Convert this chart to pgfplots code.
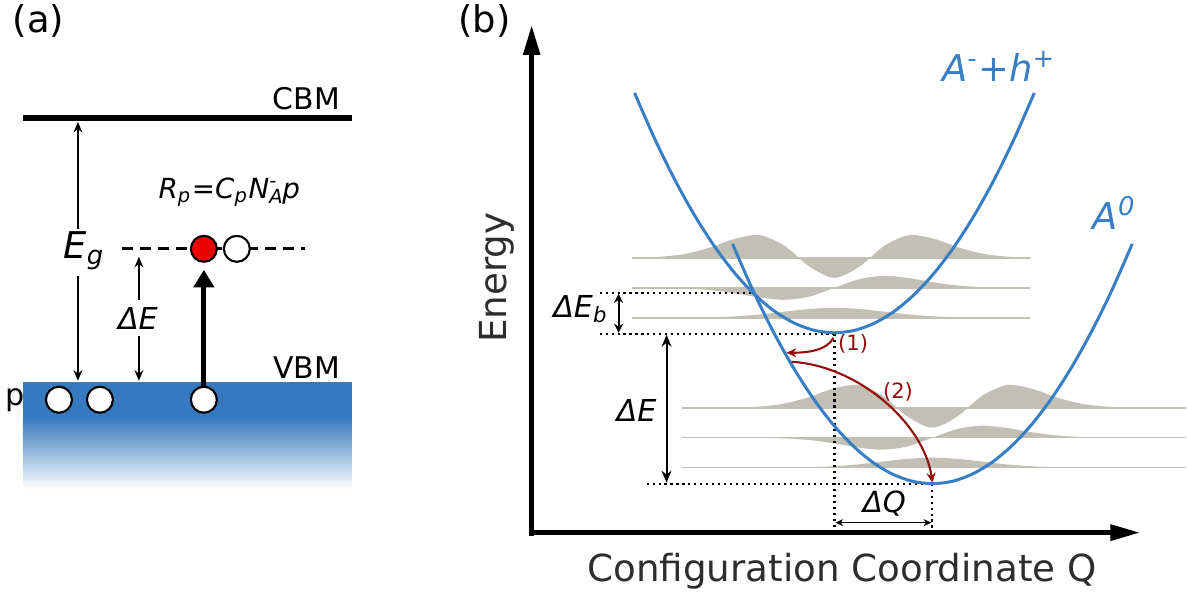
\documentclass[border=0pt]{standalone}
\usepackage{pgfplots}
\pgfplotsset{compat=1.18}
\usepackage{fontspec}
\setmainfont{DejaVu Sans}
\usetikzlibrary{arrows.meta}
\definecolor{cblue}{RGB}{56,126,196}
\definecolor{vbm}{RGB}{55,121,190}
\definecolor{wf}{RGB}{194,191,180}
\definecolor{dred}{RGB}{145,15,15}
\definecolor{fred}{RGB}{235,0,0}
\definecolor{tgray}{RGB}{45,45,45}
\newcommand{\fs}[1]{\fontsize{#1}{#1}\selectfont}
\begin{document}
\begin{tikzpicture}
\begin{axis}[width=118.7mm,height=59.5mm,scale only axis,
  xmin=0,xmax=1187,ymin=0,ymax=595,y dir=reverse,hide axis,clip=false]
\path (axis cs:0,0) rectangle (axis cs:1187,595);
% ---------------- panel (a) ----------------
\node[anchor=base west,inner sep=0] at (axis cs:12,33) {\fs{10.5pt}(a)};
\fill[vbm] (axis cs:23,382) rectangle (axis cs:352,418);
\shade[top color=vbm,bottom color=white] (axis cs:23,417.5) rectangle (axis cs:352,490);
\addplot[black,line width=1.7pt] coordinates {(23,118) (352,118)};
\node[anchor=base east,inner sep=0] at (axis cs:341,110) {\fs{8.5pt}CBM};
\node[anchor=base east,inner sep=0] at (axis cs:341,379) {\fs{8.5pt}VBM};
\node[anchor=base west,inner sep=0] at (axis cs:5,406) {\fs{8.6pt}p};
% Eg arrow
\draw[line width=0.45pt,{Stealth[length=3pt,width=2.5pt]}-] (axis cs:78,122) -- (axis cs:78,229);
\draw[line width=0.45pt,-{Stealth[length=3pt,width=2.5pt]}] (axis cs:78,276) -- (axis cs:78,381);
\node[anchor=base west,inner sep=0] at (axis cs:63,259) {\fs{10.5pt}\itshape E\textsubscript{g}};
% Delta E arrow (a)
\draw[line width=0.45pt,{Stealth[length=3pt,width=2.5pt]}-] (axis cs:139,257) -- (axis cs:139,300);
\draw[line width=0.45pt,-{Stealth[length=3pt,width=2.5pt]}] (axis cs:139,336) -- (axis cs:139,381);
\node[anchor=base,inner sep=0] at (axis cs:138,330) {\fs{8.6pt}\itshape ΔE};
% defect level
\addplot[black,line width=0.85pt,dash pattern=on 3.1pt off 2pt] coordinates {(122,249) (305,249)};
\draw[line width=1.5pt,-{Triangle[length=5pt,width=5.7pt]}] (axis cs:204,392) -- (axis cs:204,270);
\addplot[only marks,mark=*,mark size=3.7pt,mark options={fill=white,draw=black,line width=0.6pt}]
  coordinates {(59,400) (100,400) (204,400) (237,249)};
\addplot[only marks,mark=*,mark size=3.7pt,mark options={fill=fred,draw=black,line width=0.6pt}]
  coordinates {(204,249)};
\node[anchor=base west,inner sep=0] at (axis cs:158,199)
  {\fs{7.9pt}\itshape R\textsubscript{p}=C\textsubscript{p}N\rlap{\raisebox{0.5pt}{\textsuperscript{-}}}\textsubscript{A}\kern-0.6pt p};
% ---------------- panel (b) ----------------
\node[anchor=base west,inner sep=0] at (axis cs:458,33) {\fs{10.5pt}(b)};
\node[rotate=90,text=tgray] at (axis cs:497,278) {\fs{10.6pt}Energy};
\node[anchor=base west,inner sep=0,text=tgray] at (axis cs:587,582) {\fs{10.6pt}Configuration Coordinate Q};
% wavefunctions, upper set (centre 835)
\addplot[fill=wf,draw=none,smooth] coordinates {(635,318) (660,318) (685,317.9) (710,317.6) (735,316.6) (760,314.8) (785,311.9) (810,309.2) (835,308) (860,309.2) (885,311.9) (910,314.8) (935,316.6) (960,317.6) (985,317.9) (1010,318) (1035,318)};
\addplot[fill=wf,draw=none,smooth] coordinates {(635,288) (660,288.15) (685,288.66) (710,290.17) (735,293.36) (760,297.64) (785,300) (810,296.74) (835,288) (860,279.26) (885,276) (910,278.36) (935,282.64) (960,285.83) (985,287.34) (1010,287.85) (1035,288)};
\addplot[fill=wf,draw=none,smooth] coordinates {(635,258) (660,257) (685,254.2) (710,247.9) (735,239.1) (760,235.3) (785,245.9) (810,266.8) (835,278) (860,266.8) (885,245.9) (910,235.3) (935,239.1) (960,247.9) (985,254.2) (1010,257) (1035,258)};
\addplot[wf,line width=0.45pt] coordinates {(632,318) (1031,318)};
\addplot[wf,line width=0.45pt] coordinates {(632,288) (1031,288)};
\addplot[wf,line width=0.45pt] coordinates {(632,258) (1031,258)};
% wavefunctions, lower set (centre 933)
\addplot[fill=wf,draw=none,smooth] coordinates {(733,468) (758,468) (783,467.9) (808,467.6) (833,466.6) (858,464.8) (883,461.9) (908,459.2) (933,458) (958,459.2) (983,461.9) (1008,464.8) (1033,466.6) (1058,467.6) (1083,467.9) (1108,468) (1133,468)};
\addplot[fill=wf,draw=none,smooth] coordinates {(733,438) (758,438.15) (783,438.66) (808,440.17) (833,443.36) (858,447.64) (883,450) (908,446.74) (933,438) (958,429.26) (983,426) (1008,428.36) (1033,432.64) (1058,435.83) (1083,437.34) (1108,437.85) (1133,438)};
\addplot[fill=wf,draw=none,smooth] coordinates {(733,408) (758,407) (783,404.2) (808,397.9) (833,389.1) (858,385.3) (883,395.9) (908,416.8) (933,428) (958,416.8) (983,395.9) (1008,385.3) (1033,389.1) (1058,397.9) (1083,404.2) (1108,407) (1133,408)};
\addplot[wf,line width=0.45pt] coordinates {(682,468) (1187,468)};
\addplot[wf,line width=0.45pt] coordinates {(682,438) (1187,438)};
\addplot[wf,line width=0.45pt] coordinates {(682,408) (1187,408)};
% dotted guide lines
\addplot[black,line width=0.6pt,dash pattern=on 0.6pt off 1.1pt] coordinates {(600,293) (755,293)};
\addplot[black,line width=0.6pt,dash pattern=on 0.6pt off 1.1pt] coordinates {(600,334) (835,334)};
\addplot[black,line width=0.6pt,dash pattern=on 0.6pt off 1.1pt] coordinates {(647,484) (933,484)};
\addplot[black,line width=0.6pt,dash pattern=on 0.6pt off 1.1pt] coordinates {(835,334) (835,533)};
\addplot[black,line width=0.6pt,dash pattern=on 0.6pt off 1.1pt] coordinates {(933,484) (933,533)};
% parabolas
\addplot[cblue,line width=0.85pt,smooth] coordinates {(635,93) (655,138.6) (675,179.4) (695,215.4) (715,246.6) (735,273) (755,294.6) (775,311.4) (795,323.4) (815,330.6) (835,333) (855,330.6) (875,323.4) (895,311.4) (915,294.6) (935,273) (955,246.6) (975,215.4) (995,179.4) (1015,138.6) (1035,93)};
\addplot[cblue,line width=0.85pt,smooth] coordinates {(733,244) (753,289.6) (773,330.4) (793,366.4) (813,397.6) (833,424) (853,445.6) (873,462.4) (893,474.4) (913,481.6) (933,484) (953,481.6) (973,474.4) (993,462.4) (1013,445.6) (1033,424) (1053,397.6) (1073,366.4) (1093,330.4) (1113,289.6) (1133,244)};
\node[anchor=base west,inner sep=0,text=cblue] at (axis cs:942,82) {\fs{10.5pt}\itshape A\textsuperscript{-}+h\textsuperscript{+}};
\node[anchor=base west,inner sep=0,text=cblue] at (axis cs:1093,230) {\fs{10.5pt}\itshape A\textsuperscript{0}};
% axes arrows
\draw[line width=1.4pt,-{Triangle[length=8.5pt,width=4.6pt]}] (axis cs:532,536) -- (axis cs:532,25);
\draw[line width=1.4pt,-{Triangle[length=8.5pt,width=4.4pt]}] (axis cs:530,533) -- (axis cs:1141,533);
% Delta E_b
\draw[line width=0.6pt,{Stealth[length=2.6pt,width=2.6pt]}-{Stealth[length=2.6pt,width=2.6pt]}] (axis cs:619,294) -- (axis cs:619,333);
\node[anchor=base west,inner sep=0] at (axis cs:553,318) {\fs{8.6pt}\itshape ΔE\textsubscript{b}};
% Delta E (b)
\draw[line width=0.6pt,{Stealth[length=3.4pt,width=2.8pt]}-{Stealth[length=3.4pt,width=2.8pt]}] (axis cs:667,335) -- (axis cs:667,483);
\node[anchor=base,inner sep=0] at (axis cs:637,422) {\fs{8.6pt}\itshape ΔE};
% Delta Q
\draw[line width=0.35pt,{Stealth[length=2.2pt,width=2pt]}-{Stealth[length=2.2pt,width=2pt]}] (axis cs:836,523) -- (axis cs:932,523);
\node[anchor=base,inner sep=0] at (axis cs:885,513) {\fs{8.3pt}\itshape ΔQ};
% red transitions
\draw[dred,line width=0.6pt,-{Stealth[length=2.8pt,width=2.6pt]}] (axis cs:834,338) .. controls (axis cs:828,350) and (axis cs:810,353) .. (axis cs:787,353);
\draw[dred,line width=0.6pt,-{Stealth[length=2.8pt,width=2.6pt]}] (axis cs:792,362) .. controls (axis cs:860,366) and (axis cs:925,425) .. (axis cs:933,483);
\node[anchor=base west,inner sep=0,text=dred] at (axis cs:838,351) {\fs{6pt}(1)};
\node[anchor=base west,inner sep=0,text=dred] at (axis cs:883,399) {\fs{6pt}(2)};
\end{axis}
\end{tikzpicture}
\end{document}
